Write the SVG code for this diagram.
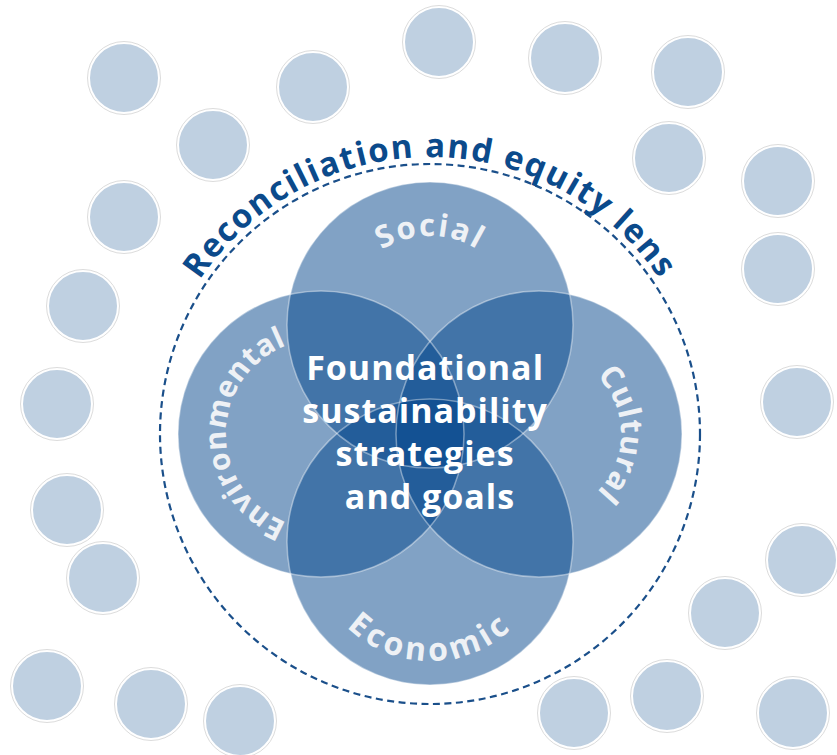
<svg xmlns="http://www.w3.org/2000/svg" xmlns:xlink="http://www.w3.org/1999/xlink" width="837" height="755" viewBox="0 0 837 755">
<style>
.dot{fill:#bfd0e1;stroke:#ffffff;stroke-width:2}
.dotring{fill:none;stroke:#dcdcdc;stroke-width:1}
.big{fill:rgb(4,70,140);fill-opacity:0.5}
.outline{fill:none;stroke:#ffffff;stroke-opacity:0.4;stroke-width:1.5}
.label{font-family:"Open Sans","Liberation Sans",sans-serif;font-weight:700;font-size:31px;fill:#eef1f5}
.center{font-family:"Open Sans","Liberation Sans",sans-serif;font-weight:700;font-size:34px;fill:#ffffff;letter-spacing:1px}
.lens{font-family:"Open Sans","Liberation Sans",sans-serif;font-weight:700;font-size:33px;fill:#0b4a8b;letter-spacing:1.6px}
</style>
<defs>
<g id="dot"><circle class="dot" r="35"/><circle class="dotring" r="36.5"/></g>
<path id="p-lens" d="M 153 434 A 277 277 0 0 1 707 434"/>
<path id="p-social" d="M 340 326 A 90 90 0 0 1 520 326"/>
<path id="p-env" d="M 321 529 A 95 95 0 0 1 321 339"/>
<path id="p-cult" d="M 539 352 A 82 82 0 0 1 539 516"/>
<path id="p-econ" d="M 311 542 A 119 119 0 0 0 549 542"/>
</defs>
<rect width="837" height="755" fill="#ffffff"/>
<g id="background-dots">
<use href="#dot" x="124" y="78"/>
<use href="#dot" x="313" y="87"/>
<use href="#dot" x="439" y="42"/>
<use href="#dot" x="565" y="58"/>
<use href="#dot" x="688" y="72"/>
<use href="#dot" x="213" y="145"/>
<use href="#dot" x="669" y="158"/>
<use href="#dot" x="778" y="181"/>
<use href="#dot" x="124" y="217"/>
<use href="#dot" x="83" y="306"/>
<use href="#dot" x="57" y="404"/>
<use href="#dot" x="67" y="510"/>
<use href="#dot" x="103" y="578"/>
<use href="#dot" x="47" y="686"/>
<use href="#dot" x="151" y="704"/>
<use href="#dot" x="240" y="721"/>
<use href="#dot" x="778" y="269"/>
<use href="#dot" x="797" y="402"/>
<use href="#dot" x="802" y="560"/>
<use href="#dot" x="725" y="613"/>
<use href="#dot" x="667" y="696"/>
<use href="#dot" x="574" y="713"/>
<use href="#dot" x="793" y="713"/>
</g>
<g id="lens">
<circle cx="430" cy="434" r="270" fill="none" stroke="#1a4f8a" stroke-width="2.2" stroke-dasharray="7 4.5"/>
<text class="lens"><textPath href="#p-lens" startOffset="50%" text-anchor="middle">Reconciliation and equity lens</textPath></text>
</g>
<g id="node-social">
<circle class="big" cx="430" cy="325" r="143"/>
<text class="label" style="letter-spacing:2px"><textPath href="#p-social" startOffset="50%" text-anchor="middle">Social</textPath></text>
</g>
<g id="node-environmental">
<circle class="big" cx="321" cy="434" r="143"/>
<text class="label" style="font-size:30px;letter-spacing:0.5px"><textPath href="#p-env" startOffset="50%" text-anchor="middle">Environmental</textPath></text>
</g>
<g id="node-cultural">
<circle class="big" cx="539" cy="434" r="143"/>
<text class="label" style="letter-spacing:0.5px"><textPath href="#p-cult" startOffset="50%" text-anchor="middle">Cultural</textPath></text>
</g>
<g id="node-economic">
<circle class="big" cx="430" cy="542" r="143"/>
<text class="label" style="font-size:32px;letter-spacing:4px"><textPath href="#p-econ" startOffset="50%" text-anchor="middle">Economic</textPath></text>
</g>
<g id="outlines">
<circle class="outline" cx="430" cy="325" r="143"/>
<circle class="outline" cx="321" cy="434" r="143"/>
<circle class="outline" cx="539" cy="434" r="143"/>
<circle class="outline" cx="430" cy="542" r="143"/>
</g>
<g id="node-center">
<text class="center" text-anchor="middle">
<tspan x="430" y="380">Foundational</tspan>
<tspan x="430" y="423">sustainability</tspan>
<tspan x="430" y="466">strategies</tspan>
<tspan x="430" y="509">and goals</tspan>
</text>
</g>
</svg>
